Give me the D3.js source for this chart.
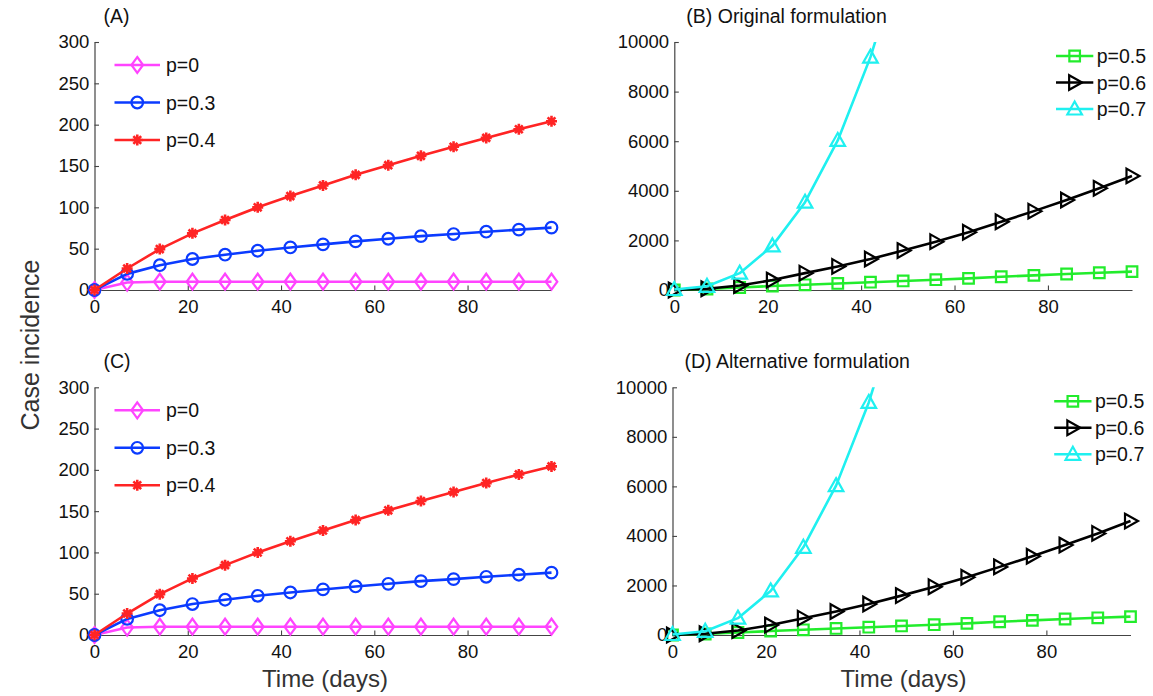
<!DOCTYPE html>
<html>
<head>
<meta charset="utf-8">
<script src="https://cdn.jsdelivr.net/npm/d3@7"></script>
<style>
  html, body { margin: 0; padding: 0; background: #fff; }
  svg { display: block; font-family: "Liberation Sans", Arial, Helvetica, sans-serif; }
</style>
</head>
<body>
<svg id="chart" width="1153" height="696"></svg>
<script>
// Weekly sample days (0..98)
const days = [0, 7, 14, 21, 28, 35, 42, 49, 56, 63, 70, 77, 84, 91, 98];

// Low transmission scenarios (panels A and C)
const incP0  = [0, 9, 10, 10, 10, 10, 10, 10, 10, 10, 10, 10, 10, 10, 10];
const incP03 = [0, 19.5, 30, 37.5, 42.7, 47.5, 51.5, 55.2, 58.8, 62, 65.2, 67.7, 70.5, 73, 75.5];
const incP04 = [0, 26, 49.5, 68.5, 84.6, 100, 113.6, 126.5, 139.3, 151, 162.3, 173.2, 184, 194.5, 204.2];

// High transmission scenarios (panels B and D)
const incP05 = [0, 40, 100, 160, 210, 265, 315, 365, 415, 470, 535, 590, 645, 695, 740];
const incP06 = [0, 50, 180, 400, 680, 950, 1250, 1590, 1950, 2330, 2750, 3180, 3630, 4100, 4600];
const incP07 = [20, 150, 680, 1780, 3540, 6030, 9390, 13650];

const lowTicksY  = [0, 50, 100, 150, 200, 250, 300];
const highTicksY = [0, 2000, 4000, 6000, 8000, 10000];
const ticksX = [0, 20, 40, 60, 80];

const lowSeries = [
  { label: "p=0",   values: incP0,  color: "#ff44ff", marker: "diamond" },
  { label: "p=0.3", values: incP03, color: "#0b3bff", marker: "circle" },
  { label: "p=0.4", values: incP04, color: "#ff2424", marker: "star" }
];
const highSeries = [
  { label: "p=0.5", values: incP05, color: "#22ec2c", marker: "square" },
  { label: "p=0.6", values: incP06, color: "#000000", marker: "triRight" },
  { label: "p=0.7", values: incP07, color: "#1ff0f0", marker: "triUp" }
];

const panels = [
  { key: "A", title: "(A)", series: lowSeries, yMax: 300, yTicks: lowTicksY,
    left: 94.5, right: 551.5, top: 42, bottom: 290, legend: "left" },
  { key: "B", title: "(B) Original formulation", series: highSeries, yMax: 10000, yTicks: highTicksY,
    left: 674.3, right: 1132, top: 42, bottom: 290, legend: "right" },
  { key: "C", title: "(C)", series: lowSeries, yMax: 300, yTicks: lowTicksY,
    left: 94.5, right: 551.5, top: 387.3, bottom: 635, legend: "left", xLabel: true },
  { key: "D", title: "(D) Alternative formulation", series: highSeries, yMax: 10000, yTicks: highTicksY,
    left: 672.5, right: 1130.5, top: 387.3, bottom: 635, legend: "right", xLabel: true }
];

const svg = d3.select("#chart");
const axisColor = "#444";

// Marker shapes, centred at the origin
function markerPath(kind) {
  switch (kind) {
    case "diamond": return "M0,-8 L5.8,0 L0,8 L-5.8,0 Z";
    case "square":  return "M-5.3,-5.3 H5.3 V5.3 H-5.3 Z";
    case "triUp":   return "M0,-7.5 L7.3,5.5 L-7.3,5.5 Z";
    case "triRight":return "M-5.5,-7.3 L7.5,0 L-5.5,7.3 Z";
    case "star": {
      const r = 5.5, d = r * Math.SQRT1_2;
      return `M${-r},0 H${r} M0,${-r} V${r} M${-d},${-d} L${d},${d} M${-d},${d} L${d},${-d}`;
    }
  }
}

function drawMarker(g, kind, color) {
  if (kind === "circle") {
    g.append("circle").attr("r", 5.8)
      .attr("fill", "none").attr("stroke", color).attr("stroke-width", 2.2);
  } else if (kind === "star") {
    g.append("path").attr("d", markerPath(kind))
      .attr("fill", "none").attr("stroke", color).attr("stroke-width", 2.6);
  } else {
    g.append("path").attr("d", markerPath(kind))
      .attr("fill", "none").attr("stroke", color).attr("stroke-width", 2.2)
      .attr("stroke-linejoin", "miter");
  }
}

panels.forEach(p => {
  const x = d3.scaleLinear().domain([0, 98]).range([p.left, p.right]);
  const y = d3.scaleLinear().domain([0, p.yMax]).range([p.bottom, p.top]);
  const g = svg.append("g").attr("class", "panel-" + p.key);

  // Axes with inward ticks and plain integer labels
  const xAxis = d3.axisBottom(x).tickValues(ticksX).tickFormat(d3.format("d"))
    .tickSizeInner(-4.5).tickSizeOuter(0).tickPadding(10);
  const yAxis = d3.axisLeft(y).tickValues(p.yTicks).tickFormat(d3.format("d"))
    .tickSizeInner(-4.5).tickSizeOuter(0).tickPadding(8);

  const gx = g.append("g").attr("transform", `translate(0,${p.bottom})`).call(xAxis);
  const gy = g.append("g").attr("transform", `translate(${p.left},0)`).call(yAxis);
  [gx, gy].forEach(a => {
    a.select(".domain").attr("stroke", axisColor).attr("stroke-width", 1.2);
    a.selectAll(".tick line").attr("stroke", axisColor).attr("stroke-width", 1.1);
    a.selectAll(".tick text").attr("fill", "#111").attr("font-size", 18.5)
      .attr("font-family", "Liberation Sans, Arial, sans-serif");
  });
  gy.selectAll(".tick text").attr("dx", "0.15em");

  // Clip region for lines that run past the top of the axes
  const clipId = "clip-" + p.key;
  svg.append("clipPath").attr("id", clipId).append("rect")
    .attr("x", p.left - 10).attr("y", p.top).attr("width", p.right - p.left + 20)
    .attr("height", p.bottom - p.top + 12);

  const line = d3.line().x((d, i) => x(days[i])).y(d => y(d));

  p.series.forEach(s => {
    g.append("path")
      .datum(s.values)
      .attr("clip-path", `url(#${clipId})`)
      .attr("fill", "none").attr("stroke", s.color).attr("stroke-width", 2.6)
      .attr("stroke-linejoin", "round")
      .attr("d", line);

    s.values.forEach((v, i) => {
      if (v > p.yMax) return;
      const m = g.append("g").attr("transform", `translate(${x(days[i])},${y(v)})`);
      drawMarker(m, s.marker, s.color);
    });
  });

  // Legend
  const lg = g.append("g");
  const leg = p.legend === "left"
    ? { x0: p.left + 20, x1: p.left + 65.5, tx: p.left + 71.5, y0: p.top + 23, dy: 37.5, fs: 19.5 }
    : { x0: p.left + 381.7, x1: p.left + 419, tx: p.left + 422.4, y0: p.top + 14, dy: 26.5, fs: 19.5 };
  p.series.forEach((s, i) => {
    const yy = leg.y0 + i * leg.dy;
    lg.append("line").attr("x1", leg.x0).attr("x2", leg.x1).attr("y1", yy).attr("y2", yy)
      .attr("stroke", s.color).attr("stroke-width", 2.6);
    const m = lg.append("g").attr("transform", `translate(${(leg.x0 + leg.x1) / 2},${yy})`);
    drawMarker(m, s.marker, s.color);
    lg.append("text").attr("x", leg.tx).attr("y", yy).attr("dy", "0.36em")
      .attr("font-size", leg.fs).attr("fill", "#111").text(s.label);
  });

  // Panel title
  g.append("text").attr("x", p.key === "A" || p.key === "C" ? p.left + 9 : p.left + 12)
    .attr("y", p.top - 19).attr("font-size", 19.5).attr("fill", "#111").text(p.title);

  if (p.xLabel) {
    g.append("text").attr("x", (p.left + p.right) / 2 + 2).attr("y", 687)
      .attr("text-anchor", "middle").attr("font-size", 24).attr("fill", "#333")
      .text("Time (days)");
  }
});

// Shared y-axis label
svg.append("text")
  .attr("transform", "translate(39,345) rotate(-90)")
  .attr("text-anchor", "middle").attr("font-size", 25).attr("fill", "#333")
  .text("Case incidence");
</script>
</body>
</html>
